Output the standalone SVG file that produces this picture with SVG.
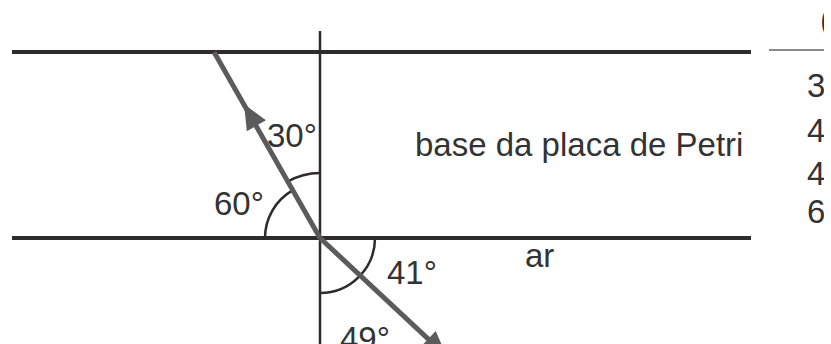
<svg xmlns="http://www.w3.org/2000/svg" width="831" height="344" viewBox="0 0 831 344">
<style>
.bound{stroke:#2e2b2c;stroke-width:4;fill:none}
.normal{stroke:#2e2b2c;stroke-width:2.5;fill:none}
.arc{stroke:#2e2b2c;stroke-width:2.5;fill:none}
.ray{stroke:#5b5b5b;stroke-width:5;fill:none;stroke-linecap:butt}
.head{fill:#5b5b5b}
.lbl{font-family:"Liberation Sans",Arial,sans-serif;font-size:33px;fill:#333}
.tbl{stroke:#8a8a8a;stroke-width:2}
</style>
<defs>
<path id="ah" d="M0,0 L-25,-11 L-25,11 Z"/>
<clipPath id="cp"><rect x="0" y="0" width="824" height="344"/></clipPath>
</defs>
<rect width="831" height="344" fill="#fff"/>
<g id="boundaries">
<line class="bound" x1="12" y1="52" x2="751" y2="52"/>
<line class="bound" x1="12" y1="238" x2="751" y2="238"/>
</g>
<g id="normal">
<line class="normal" x1="320" y1="31" x2="320" y2="344"/>
</g>
<g id="arcs">
<path class="arc" d="M320,173 A65,65 0 0 0 287.5,181.7"/>
<path class="arc" d="M265,238 A55,55 0 0 1 292.5,190.4"/>
<path class="arc" d="M375,238 A55,55 0 0 1 320,293"/>
</g>
<g id="connectors">
<line class="ray" x1="214" y1="52" x2="320" y2="238"/>
<line class="ray" x1="320" y1="238" x2="440" y2="350"/>
<use href="#ah" class="head" transform="translate(244,104) rotate(-119.7)"/>
<use href="#ah" class="head" transform="translate(446.5,356) rotate(43)"/>
</g>
<g id="labels">
<text class="lbl" x="267" y="147">30°</text>
<text class="lbl" x="214" y="215">60°</text>
<text class="lbl" x="415" y="156">base da placa de Petri</text>
<text class="lbl" x="525" y="267">ar</text>
<text class="lbl" x="387" y="284">41°</text>
<text class="lbl" x="340" y="350">49°</text>
</g>
<g id="table" clip-path="url(#cp)">
<line class="tbl" x1="769" y1="50" x2="824" y2="50"/>
<text class="lbl" x="820" y="31">(</text>
<text class="lbl" x="807" y="97">3</text>
<text class="lbl" x="807" y="142">4</text>
<text class="lbl" x="807" y="185">4</text>
<text class="lbl" x="807" y="223">6</text>
</g>
</svg>
